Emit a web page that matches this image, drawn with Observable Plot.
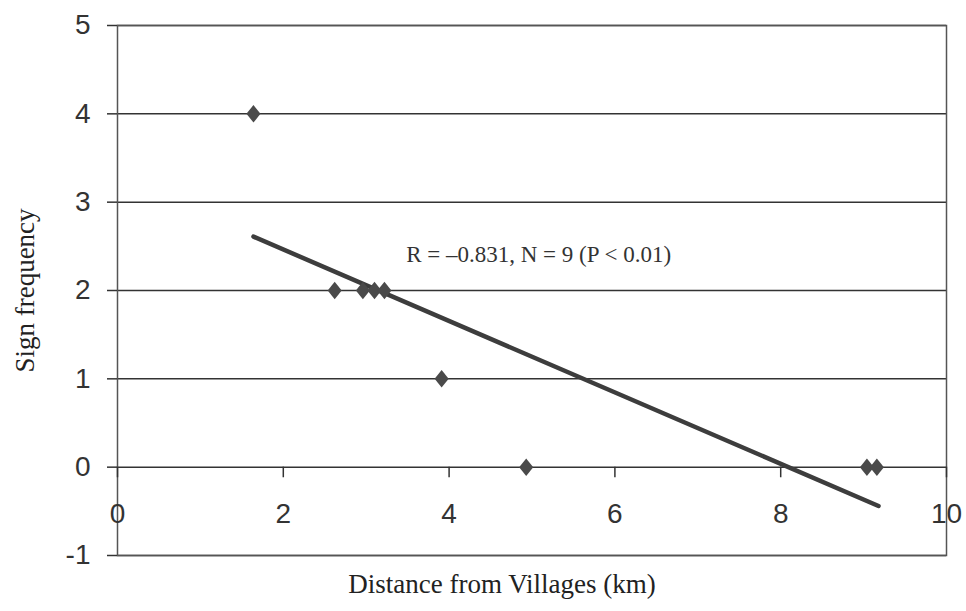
<!DOCTYPE html>
<html><head><meta charset="utf-8">
<script src="https://cdn.jsdelivr.net/npm/d3@7"></script>
<script src="https://cdn.jsdelivr.net/npm/@observablehq/plot@0.6"></script>
<style>body{margin:0;background:#fff}</style>
</head><body><div id="chart"></div>
<script>
const distance = [1.64, 2.62, 2.96, 3.10, 3.22, 3.91, 4.93, 9.04, 9.16];
const frequency = [4, 2, 2, 2, 2, 1, 0, 0, 0];
const fitX = [1.64, 9.18];
const fitY = [2.61, -0.44];
const xTicks = [0, 2, 4, 6, 8, 10];
const yTicks = [-1, 0, 1, 2, 3, 4, 5];
const annotation = "R = \u20130.831, N = 9 (P < 0.01)";
const xLabel = "Distance from Villages (km)";
const yLabel = "Sign frequency";

const points = distance.map((x, i) => ({x, y: frequency[i]}));
const fit = fitX.map((x, i) => ({x, y: fitY[i]}));

const diamond = {draw(ctx, size) {
  const h = Math.sqrt(size) * 0.62, w = h * 0.8;
  ctx.moveTo(0, -h); ctx.lineTo(w, 0); ctx.lineTo(0, h); ctx.lineTo(-w, 0); ctx.closePath();
}};

const tickFont = "'Liberation Sans Narrow', 'Liberation Sans', Arial, sans-serif";
const serif = "'Liberation Serif', 'Times New Roman', serif";

const chart = Plot.plot({
  width: 966, height: 611,
  marginLeft: 117, marginRight: 20, marginTop: 25, marginBottom: 56,
  x: {domain: [0, 10], axis: null},
  y: {domain: [-1, 5], axis: null},
  style: {background: "#fff"},
  marks: [
    Plot.ruleY(yTicks, {y: d => d, stroke: "#333", strokeWidth: 1.5}),
    Plot.frame({stroke: "#555", strokeWidth: 1.5}),
    Plot.axisY({ticks: yTicks, tickFormat: d => String(d), tickSize: 10, tickPadding: 17, fontSize: 28, fontFamily: tickFont, color: "#333", stroke: "#333", strokeWidth: 1.5, label: null}),
    Plot.ruleX(xTicks, {x: d => d, y1: 0, y2: -0.12, stroke: "#333", strokeWidth: 1.5}),
    Plot.text(xTicks, {x: d => d, y: 0, dy: 47, text: d => String(d), fontSize: 28, fontFamily: tickFont, fill: "#333"}),
    Plot.line(fit, {x: "x", y: "y", stroke: "#3d3d3d", strokeWidth: 4.5}),
    Plot.dot(points, {x: "x", y: "y", symbol: diamond, r: 8, fill: "#4a4a4a", stroke: "none"}),
    Plot.text([annotation], {x: 5.08, y: 2.41, text: d => d, fontSize: 23, fontFamily: serif, fill: "#333"}),
    Plot.text([xLabel], {frameAnchor: "bottom", dx: -30, dy: 37, text: d => d, fontSize: 27, fontFamily: serif, fill: "#222"}),
    Plot.text([yLabel], {frameAnchor: "left", textAnchor: "middle", dx: -92, rotate: -90, text: d => d, fontSize: 27, fontFamily: serif, fill: "#222"})
  ]
});
document.getElementById("chart").append(chart);
</script></body></html>
